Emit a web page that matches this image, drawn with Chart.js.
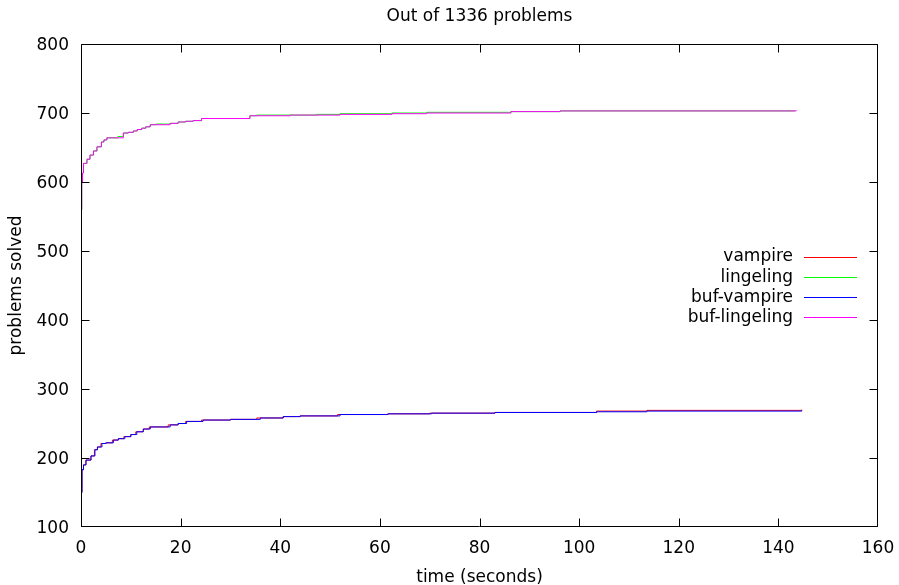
<!DOCTYPE html>
<html>
<head>
<meta charset="utf-8">
<script src="https://cdn.jsdelivr.net/npm/chart.js@4.4.0/dist/chart.umd.min.js"></script>
<style>
html, body { margin: 0; padding: 0; background: #fff; overflow: hidden; }
canvas { display: block; }
</style>
</head>
<body>
<canvas id="grafik" width="899" height="585"></canvas>
<script>
// judul dan label
const judul = 'Out of 1336 problems'
const labelX = 'time (seconds)'
const labelY = 'problems solved'
const tickX = [0, 20, 40, 60, 80, 100, 120, 140, 160]
const tickY = [100, 200, 300, 400, 500, 600, 700, 800]

// data: waktu (detik) dan jumlah soal terselesaikan
const vampireT = [0, 0.05, 0.2, 0.5, 1.0, 2.0, 2.7, 3.3, 4.0, 5, 6.3, 7.5, 8.6, 10, 11.0, 12.5, 13.7, 17.5, 19.5, 21.0, 24.2, 30, 35.3, 40.6, 44, 51.5, 61.6, 70.0, 83.1, 103.5, 113.6, 144.7]
const vampireN = [100, 150, 183, 190, 197, 203, 212, 216, 221, 222, 226, 228, 231, 234, 238, 242, 245, 248, 250, 253, 255, 256, 258, 260, 261, 263, 264, 265, 266, 268, 269, 270]

const lingelingT = [0, 0.05, 0.15, 0.3, 0.5, 1.2, 1.8, 2.5, 3.2, 4.1, 4.6, 5.2, 7.4, 8.5, 9.5, 10.5, 11.3, 12.2, 13, 13.9, 15, 17.9, 19.5, 21, 22.5, 24.2, 33.9, 35.3, 47.3, 52, 62.4, 69.4, 86.3, 96.2, 143.2]
const lingelingN = [470, 560, 600, 613, 627, 633, 639, 645, 651, 658, 661, 664, 666, 671, 672, 674, 676, 678, 680, 683, 684, 685, 687, 688, 689, 692, 696, 697, 698, 699, 700, 701, 702, 703, 704]

const bufVampireT = [0, 0.05, 0.2, 0.5, 1.0, 2.0, 2.8, 3.3, 4.2, 5, 6.5, 7.5, 8.8, 10, 11.2, 12.5, 13.9, 17.9, 19.5, 21.2, 24.5, 30, 36, 40.6, 44, 52, 61.6, 70.4, 83.1, 103.5, 113.6, 144.7]
const bufVampireN = [100, 150, 183, 190, 197, 203, 212, 216, 221, 222, 226, 228, 231, 234, 238, 242, 245, 248, 250, 253, 255, 256, 258, 260, 261, 263, 264, 265, 266, 267, 268, 269]

const bufLingelingT = [0, 0.05, 0.15, 0.3, 0.5, 1.2, 1.8, 2.5, 3.2, 4.1, 4.6, 5.2, 8.5, 9.5, 10.5, 11.3, 12.2, 13, 13.9, 17.9, 19.5, 21, 22.5, 24.2, 33.9, 42, 52, 62.4, 69.4, 86.3, 96.2, 143.6]
const bufLingelingN = [470, 560, 600, 613, 627, 633, 639, 645, 651, 658, 661, 664, 671, 672, 674, 676, 678, 680, 683, 685, 687, 688, 689, 692, 696, 697, 698, 699, 700, 702, 703, 704]

const fontTeks = { family: 'DejaVu Sans', size: 17 }

// gabungkan waktu dan jumlah jadi titik
const jadiTitik = (t, n) => t.map((v, i) => ({ x: v, y: n[i] }))

const seri = [
    { label: 'vampire', data: jadiTitik(vampireT, vampireN), warna: '#ff0000', urutan: 4 },
    { label: 'lingeling', data: jadiTitik(lingelingT, lingelingN), warna: '#00ff00', urutan: 3 },
    { label: 'buf-vampire', data: jadiTitik(bufVampireT, bufVampireN), warna: '#0000ff', urutan: 2 },
    { label: 'buf-lingeling', data: jadiTitik(bufLingelingT, bufLingelingN), warna: '#ff00ff', urutan: 1 },
]

// bingkai, tick ke dalam, legenda dan judul ala gnuplot
const bingkai = {
    id: 'bingkai',
    afterDraw(chart) {
        const { ctx, scales: { x, y } } = chart
        const kiri = Math.round(x.getPixelForValue(0)) + 0.5
        const kanan = Math.round(x.getPixelForValue(160)) - 0.5
        const atas = Math.round(y.getPixelForValue(800)) + 0.5
        const bawah = Math.round(y.getPixelForValue(100)) - 0.5
        ctx.save()
        ctx.strokeStyle = '#000'
        ctx.lineWidth = 1

        ctx.beginPath()
        ctx.moveTo(kiri, atas); ctx.lineTo(kanan, atas)
        ctx.moveTo(kanan, atas); ctx.lineTo(kanan, bawah)
        ctx.moveTo(kanan, bawah); ctx.lineTo(kiri, bawah)
        ctx.moveTo(kiri, bawah); ctx.lineTo(kiri, atas)
        ctx.stroke()

        ctx.beginPath()
        tickX.forEach(v => {
            const px = Math.min(Math.round(x.getPixelForValue(v)) + 0.5, kanan)
            ctx.moveTo(px, bawah); ctx.lineTo(px, bawah - 8)
            ctx.moveTo(px, atas); ctx.lineTo(px, atas + 8)
        })
        tickY.forEach(v => {
            const py = Math.max(Math.min(Math.round(y.getPixelForValue(v)) + 0.5, bawah), atas)
            ctx.moveTo(kiri, py); ctx.lineTo(kiri + 8, py)
            ctx.moveTo(kanan, py); ctx.lineTo(kanan - 8, py)
        })
        ctx.stroke()

        // legenda
        ctx.font = '17px "DejaVu Sans"'
        ctx.fillStyle = '#000'
        ctx.textAlign = 'right'
        ctx.textBaseline = 'middle'
        chart.data.datasets.forEach((ds, i) => {
            const ly = 257 + i * 20.2
            ctx.fillText(ds.label, 793, ly)
            ctx.strokeStyle = ds.borderColor
            ctx.beginPath()
            ctx.moveTo(804, Math.round(ly - 0.5) + 0.5)
            ctx.lineTo(857, Math.round(ly - 0.5) + 0.5)
            ctx.stroke()
        })

        // judul
        ctx.textAlign = 'center'
        const tengahX = (kiri + kanan) / 2
        ctx.fillText(judul, tengahX, 17)
        ctx.fillText(labelX, tengahX, 578)
        ctx.translate(17, (atas + bawah) / 2)
        ctx.rotate(-Math.PI / 2)
        ctx.fillText(labelY, 0, 0)
        ctx.restore()
    }
}

const ctx = document.getElementById('grafik').getContext('2d')
const grafik = new Chart(ctx, {
    type: 'line',
    data: {
        datasets: seri.map(s => ({
            label: s.label,
            data: s.data,
            borderColor: s.warna,
            borderWidth: 1,
            pointRadius: 0,
            stepped: true,
            fill: false,
            order: s.urutan
        }))
    },
    options: {
        responsive: false,
        animation: false,
        layout: { padding: { left: 0, right: 21, top: 44, bottom: 0 } },
        plugins: {
            legend: { display: false },
            tooltip: { enabled: false }
        },
        scales: {
            x: {
                type: 'linear',
                min: 0,
                max: 160,
                afterFit: s => {
                    s.height = 58
                    s.paddingLeft = 0
                    s.paddingRight = 0
                },
                afterBuildTicks: s => { s.ticks = tickX.map(v => ({ value: v })) },
                ticks: { font: fontTeks, color: '#000', padding: 11, maxRotation: 0 },
                grid: { display: false, drawTicks: false },
                border: { display: false }
            },
            y: {
                min: 100,
                max: 800,
                afterFit: s => {
                    s.width = 81
                    s.paddingTop = 0
                    s.paddingBottom = 0
                },
                afterBuildTicks: s => { s.ticks = tickY.map(v => ({ value: v })) },
                ticks: { font: fontTeks, color: '#000', padding: 12, labelOffset: 2 },
                grid: { display: false, drawTicks: false },
                border: { display: false }
            }
        }
    },
    plugins: [bingkai]
})
</script>
</body>
</html>
